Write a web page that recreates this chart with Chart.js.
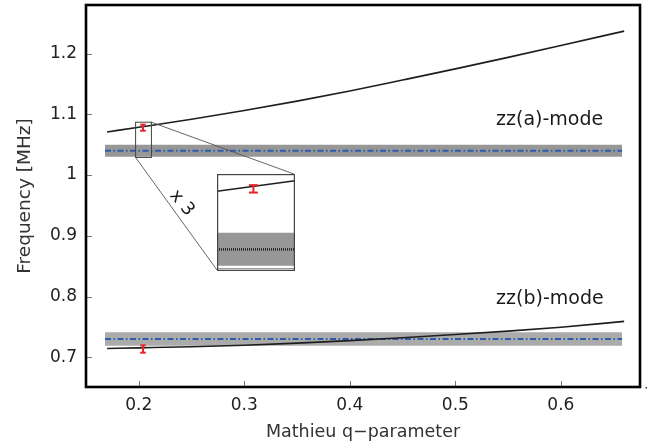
<!DOCTYPE html>
<html><head><meta charset="utf-8">
<script src="https://cdn.jsdelivr.net/npm/chart.js@4/dist/chart.umd.min.js"></script>
<style>
html,body{margin:0;padding:0;background:#fff}
#wrap{position:relative;width:652px;height:448px}
#main{position:absolute;left:0;top:0}
#inset{position:absolute;left:0;top:0}
</style>
</head><body>
<div id="wrap"><canvas id="main" width="652" height="448"></canvas><canvas id="inset" width="10" height="10"></canvas></div>
<script>
// ---------- data ----------
const xTicks = [0.2, 0.3, 0.4, 0.5, 0.6];
const yTicks = [0.7, 0.8, 0.9, 1.0, 1.1, 1.2];
const qValues = [0.17, 0.2, 0.25, 0.3, 0.35, 0.4, 0.45, 0.5, 0.55, 0.6, 0.66];
const zzA = [1.071, 1.0787, 1.0919, 1.1062, 1.1217, 1.1385, 1.1565, 1.1748, 1.1938, 1.2133, 1.237];
const zzB = [0.7145, 0.7155, 0.7173, 0.7198, 0.7232, 0.7274, 0.7322, 0.7374, 0.743, 0.7495, 0.759];
const bandQ = [0.168, 0.658];
const bandAUpper = [1.05, 1.05];
const bandALower = [1.03, 1.03];
const bandACenter = [1.04, 1.04];
const bandBUpper = [0.741, 0.741];
const bandBLower = [0.719, 0.719];
const bandBCenter = [0.73, 0.73];
const errQ = [0.204];
const errA = [1.078];
const errAHalf = [0.005];
const errB = [0.7135];
const errBHalf = [0.006];
const modeLabels = ['zz(a)-mode', 'zz(b)-mode'];
const zoomLabel = 'x 3';
// inset (magnified view)
const insetQ = [0.197, 0.212];
const insetCurve = [1.0747, 1.0809];
const insetErrQ = [0.204];
const insetErr = [1.0761];
const insetErrHalf = [0.0022];
const insetBandUpper = [1.05, 1.05];
const insetBandLower = [1.0305, 1.0305];
const insetCenter = [1.0402, 1.0402];
const insetEdge = [1.0288, 1.0288];
const zoomRegionQ = [0.197, 0.212];
const zoomRegionF = [1.029, 1.087];

// ---------- layout config (not data) ----------
const X_RANGE = [0.15, 0.675], Y_RANGE = [0.651, 1.28];
const INSET_BOX = {q: [0.2742, 0.3472], f: [0.8435, 1.0016]};
const INSET_RANGE = {q: [0.197, 0.212], f: [1.0274, 1.0849]};
const LABEL_POS = [{q: 0.5386, f: 1.0906}, {q: 0.5386, f: 0.7964}];
const ZOOM_LABEL_POS = {q: 0.2407, f: 0.9539};
const FONT = "'DejaVu Sans', sans-serif";

const pts = (xs, ys) => xs.map((x, i) => ({x, y: ys[i]}));
const errPts = (q, c, h) => [{x: q, y: c - h}, {x: q, y: c + h}];
const fmt = v => String(parseFloat(v.toFixed(2)));

const RED = '#e5252b', BLUE = '#2b5cae';

function errDataset(q, c, h, w, r) {
  return {data: errPts(q, c, h), borderColor: RED, borderWidth: w, pointStyle: 'line',
    pointRadius: r, pointBorderColor: RED, pointBorderWidth: w, pointHoverRadius: r, fill: false};
}

const mainDecor = {
  id: 'mainDecor',
  afterDraw(chart) {
    const {ctx, chartArea: a, scales: {x, y}} = chart;
    ctx.save();
    const rx1 = x.getPixelForValue(zoomRegionQ[0]), rx2 = x.getPixelForValue(zoomRegionQ[1]);
    const ry1 = y.getPixelForValue(zoomRegionF[1]), ry2 = y.getPixelForValue(zoomRegionF[0]);
    const ix1 = x.getPixelForValue(INSET_BOX.q[0]), ix2 = x.getPixelForValue(INSET_BOX.q[1]);
    const iy1 = y.getPixelForValue(INSET_BOX.f[1]), iy2 = y.getPixelForValue(INSET_BOX.f[0]);
    ctx.strokeStyle = '#555'; ctx.lineWidth = 0.9;
    ctx.beginPath();
    ctx.moveTo(rx2, ry1); ctx.lineTo(ix2, iy1);
    ctx.moveTo(rx1, ry2); ctx.lineTo(ix1, iy2);
    ctx.stroke();
    ctx.strokeStyle = '#444'; ctx.lineWidth = 1;
    ctx.strokeRect(rx1, ry1, rx2 - rx1, ry2 - ry1);
    ctx.strokeStyle = '#777'; ctx.lineWidth = 1;
    ctx.beginPath();
    xTicks.forEach(v => { const px = Math.round(x.getPixelForValue(v)) + 0.5; ctx.moveTo(px, a.bottom); ctx.lineTo(px, a.bottom - 6); });
    yTicks.forEach(v => { const py = Math.round(y.getPixelForValue(v)) + 0.5; ctx.moveTo(a.left, py); ctx.lineTo(a.left + 6, py); });
    ctx.stroke();
    ctx.strokeStyle = '#000'; ctx.lineWidth = 2.6;
    ctx.strokeRect(a.left, a.top, a.right - a.left, a.bottom - a.top);
    ctx.fillStyle = '#1a1a1a';
    ctx.font = '19px ' + FONT;
    ctx.textAlign = 'left'; ctx.textBaseline = 'middle';
    modeLabels.forEach((t, i) => ctx.fillText(t, x.getPixelForValue(LABEL_POS[i].q), y.getPixelForValue(LABEL_POS[i].f)));
    ctx.save();
    ctx.translate(x.getPixelForValue(ZOOM_LABEL_POS.q), y.getPixelForValue(ZOOM_LABEL_POS.f));
    ctx.rotate(50 * Math.PI / 180);
    ctx.textAlign = 'center'; ctx.font = '18px ' + FONT;
    ctx.fillText(zoomLabel, 0, 0);
    ctx.restore();
    ctx.fillStyle = '#333';
    ctx.fillRect(a.right + 5.5, a.bottom, 1.5, 1.5);
    ctx.restore();
  }
};

const mainChart = new Chart(document.getElementById('main'), {
  type: 'line',
  data: {
    datasets: [
      errDataset(errQ[0], errA[0], errAHalf[0], 2, 2.8),
      errDataset(errQ[0], errB[0], errBHalf[0], 2, 2.8),
      {data: pts(qValues, zzA), borderColor: '#1e1e1e', borderWidth: 1.6, pointRadius: 0, cubicInterpolationMode: 'monotone', fill: false},
      {data: pts(qValues, zzB), borderColor: '#1e1e1e', borderWidth: 1.6, pointRadius: 0, cubicInterpolationMode: 'monotone', fill: false},
      {data: pts(bandQ, bandACenter), borderColor: BLUE, borderWidth: 2, borderDash: [6, 2.5, 1.5, 2.5], pointRadius: 0, fill: false},
      {data: pts(bandQ, bandBCenter), borderColor: BLUE, borderWidth: 2, borderDash: [6, 2.5, 1.5, 2.5], pointRadius: 0, fill: false},
      {data: pts(bandQ, bandAUpper), borderWidth: 0, borderColor: 'rgba(0,0,0,0)', pointRadius: 0, fill: '+1', backgroundColor: '#979797'},
      {data: pts(bandQ, bandALower), borderWidth: 0, borderColor: 'rgba(0,0,0,0)', pointRadius: 0, fill: false},
      {data: pts(bandQ, bandBUpper), borderWidth: 0, borderColor: 'rgba(0,0,0,0)', pointRadius: 0, fill: '+1', backgroundColor: '#ababab'},
      {data: pts(bandQ, bandBLower), borderWidth: 0, borderColor: 'rgba(0,0,0,0)', pointRadius: 0, fill: false}
    ]
  },
  options: {
    responsive: false, animation: false, devicePixelRatio: 1,
    layout: {autoPadding: false, padding: {top: 5, right: 12, left: 0, bottom: 0}},
    plugins: {legend: {display: false}, tooltip: {enabled: false}},
    events: [],
    scales: {
      x: {
        type: 'linear', min: X_RANGE[0], max: X_RANGE[1],
        afterBuildTicks: s => { s.ticks = xTicks.map(v => ({value: v})); },
        afterFit: s => { s.height = 61; s.paddingLeft = 0; s.paddingRight = 0; },
        grid: {display: false, drawTicks: false}, border: {display: false},
        ticks: {color: '#222', font: {family: FONT, size: 17}, padding: 8, callback: v => fmt(v), maxRotation: 0, autoSkip: false},
        title: {display: true, text: 'Mathieu q\u2212parameter', color: '#333', font: {family: FONT, size: 17.5}, padding: {top: 0, bottom: 5}}
      },
      y: {
        type: 'linear', min: Y_RANGE[0], max: Y_RANGE[1],
        afterBuildTicks: s => { s.ticks = yTicks.map(v => ({value: v})); },
        afterFit: s => { s.width = 86; s.paddingTop = 0; s.paddingBottom = 0; },
        grid: {display: false, drawTicks: false}, border: {display: false},
        ticks: {color: '#222', font: {family: FONT, size: 17}, padding: 9, callback: v => fmt(v), autoSkip: false},
        title: {display: true, text: 'Frequency [MHz]', color: '#333', font: {family: FONT, size: 18.5}, padding: {top: 14, bottom: 0}}
      }
    }
  },
  plugins: [mainDecor]
});

// ---------- inset ----------
const xs = mainChart.scales.x, ys = mainChart.scales.y;
const il = Math.round(xs.getPixelForValue(INSET_BOX.q[0]));
const ir = Math.round(xs.getPixelForValue(INSET_BOX.q[1]));
const it = Math.round(ys.getPixelForValue(INSET_BOX.f[1]));
const ib = Math.round(ys.getPixelForValue(INSET_BOX.f[0]));
const ic = document.getElementById('inset');
ic.width = ir - il + 1; ic.height = ib - it + 1;
ic.style.left = il + 'px'; ic.style.top = it + 'px';

const insetDecor = {
  id: 'insetDecor',
  beforeDraw(chart) {
    const {ctx} = chart;
    ctx.save(); ctx.fillStyle = '#fff'; ctx.fillRect(0, 0, chart.width, chart.height); ctx.restore();
  },
  afterDraw(chart) {
    const {ctx} = chart;
    ctx.save(); ctx.strokeStyle = '#444'; ctx.lineWidth = 1.2;
    ctx.strokeRect(0.6, 0.6, chart.width - 1.2, chart.height - 1.2); ctx.restore();
  }
};

new Chart(ic, {
  type: 'line',
  data: {
    datasets: [
      errDataset(insetErrQ[0], insetErr[0], insetErrHalf[0], 2, 4.5),
      {data: pts(insetQ, insetCurve), borderColor: '#1e1e1e', borderWidth: 1.5, pointRadius: 0, fill: false},
      {data: pts(insetQ, insetCenter), borderColor: '#222', borderWidth: 2.5, borderDash: [1, 1], pointRadius: 0, fill: false},
      {data: pts(insetQ, insetEdge), borderColor: '#9a9a9a', borderWidth: 1.3, pointRadius: 0, fill: false},
      {data: pts(insetQ, insetBandUpper), borderWidth: 0, borderColor: 'rgba(0,0,0,0)', pointRadius: 0, fill: '+1', backgroundColor: '#979797'},
      {data: pts(insetQ, insetBandLower), borderWidth: 0, borderColor: 'rgba(0,0,0,0)', pointRadius: 0, fill: false}
    ]
  },
  options: {
    responsive: false, animation: false, devicePixelRatio: 1,
    layout: {autoPadding: false, padding: 0},
    plugins: {legend: {display: false}, tooltip: {enabled: false}},
    events: [],
    scales: {
      x: {type: 'linear', display: false, min: INSET_RANGE.q[0], max: INSET_RANGE.q[1]},
      y: {type: 'linear', display: false, min: INSET_RANGE.f[0], max: INSET_RANGE.f[1]}
    }
  },
  plugins: [insetDecor]
});
</script>
</body></html>
